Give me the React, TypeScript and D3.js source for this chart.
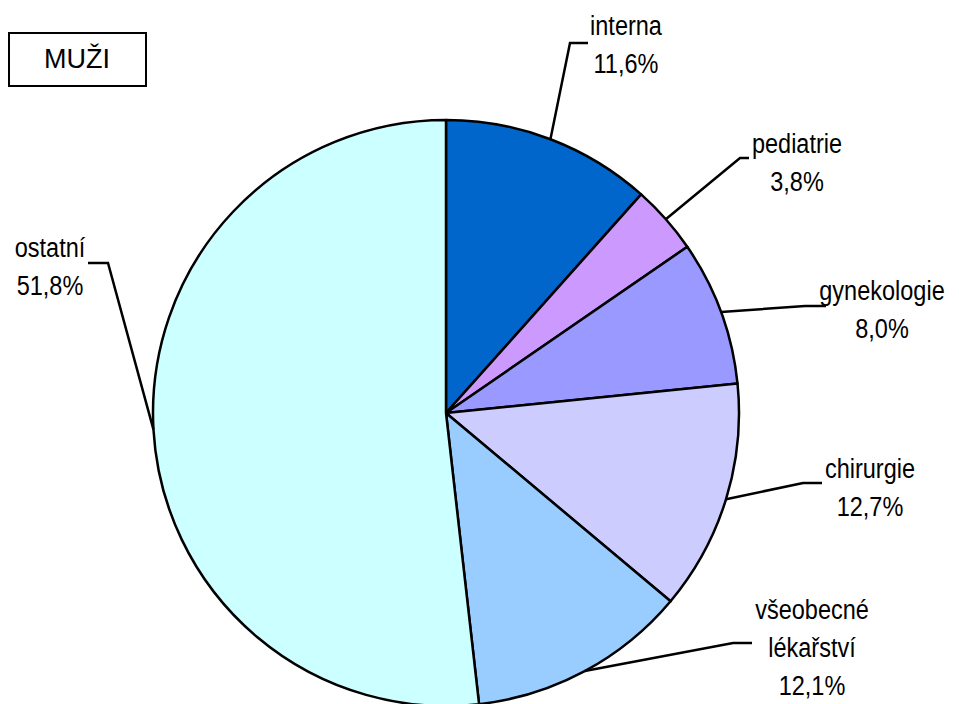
import React, { useEffect, useRef } from 'react';
import * as d3 from 'd3';

// slice data, clockwise from 12 o'clock
const categories = ['interna', 'pediatrie', 'gynekologie', 'chirurgie', 'všeobecné lékařství', 'ostatní'];
const labelLines = [['interna'], ['pediatrie'], ['gynekologie'], ['chirurgie'], ['všeobecné', 'lékařství'], ['ostatní']];
const values = [11.6, 3.8, 8.0, 12.7, 12.1, 51.8];
const colors = ['#0066CC', '#CC99FF', '#9999FF', '#CCCCFF', '#99CCFF', '#CCFFFF'];

// label layout: elbow of leader line, end of leader, text centre x, first baseline y
const labelLayout = [
  { elbow: [570, 43], end: [588, 43], tx: 626, ty: 35 },
  { elbow: [740, 158], end: [749, 158], tx: 797, ty: 153 },
  { elbow: [805, 306], end: [826, 306], tx: 882, ty: 300 },
  { elbow: [803, 483], end: [822, 483], tx: 870, ty: 478 },
  { elbow: [733, 643], end: [752, 643], tx: 812, ty: 619 },
  { elbow: [108, 263], end: [88, 263], tx: 50, ty: 257 },
];

const W = 959;
const H = 704;
const cx = 446;
const cy = 413;
const R = 293;
const font = '"Liberation Sans", Arial, sans-serif';

export default function App() {
  const svgRef = useRef<SVGSVGElement>(null);

  useEffect(() => {
    if (!svgRef.current) return;
    const svg = d3.select(svgRef.current);
    svg.selectAll('*').remove();

    const data = categories.map((c, i) => ({ name: c, value: values[i], color: colors[i], i }));

    const pie = d3.pie<any>().value(d => d.value).sort(null);
    const arcs = pie(data);
    const arc = d3.arc<any>().innerRadius(0).outerRadius(R);

    const g = svg.append('g').attr('transform', `translate(${cx},${cy})`);
    g.selectAll('path')
      .data(arcs)
      .join('path')
      .attr('d', arc)
      .attr('fill', d => d.data.color)
      .attr('stroke', '#000')
      .attr('stroke-width', 2.5)
      .attr('stroke-linejoin', 'round');

    // leader lines + labels
    arcs.forEach((a, i) => {
      const mid = (a.startAngle + a.endAngle) / 2;
      const px = cx + R * Math.sin(mid);
      const py = cy - R * Math.cos(mid);
      const L = labelLayout[i];
      svg.append('path')
        .attr('d', d3.line()([[px, py], L.elbow as [number, number], L.end as [number, number]]))
        .attr('fill', 'none')
        .attr('stroke', '#000')
        .attr('stroke-width', 2.5);

      const lines = [...labelLines[i], d3.format('.1f')(a.data.value).replace('.', ',') + '%'];
      const t = svg.append('text')
        .attr('transform', `translate(${L.tx},${L.ty}) scale(0.84,1)`)
        .attr('text-anchor', 'middle')
        .attr('font-family', font)
        .attr('font-size', 28)
        .attr('fill', '#000');
      lines.forEach((s, k) => {
        t.append('tspan').attr('x', 0).attr('y', k * 38).text(s);
      });
    });

    // title box
    svg.append('rect')
      .attr('x', 9).attr('y', 33).attr('width', 137).attr('height', 53)
      .attr('fill', '#fff').attr('stroke', '#000').attr('stroke-width', 2);
    svg.append('text')
      .attr('x', 77).attr('y', 68)
      .attr('text-anchor', 'middle')
      .attr('font-family', font)
      .attr('font-size', 27)
      .text('MUŽI');
  }, []);

  return (
    <svg ref={svgRef} width={W} height={H}
      style={{ position: 'absolute', left: 0, top: 0, background: '#fff' }} />
  );
}
